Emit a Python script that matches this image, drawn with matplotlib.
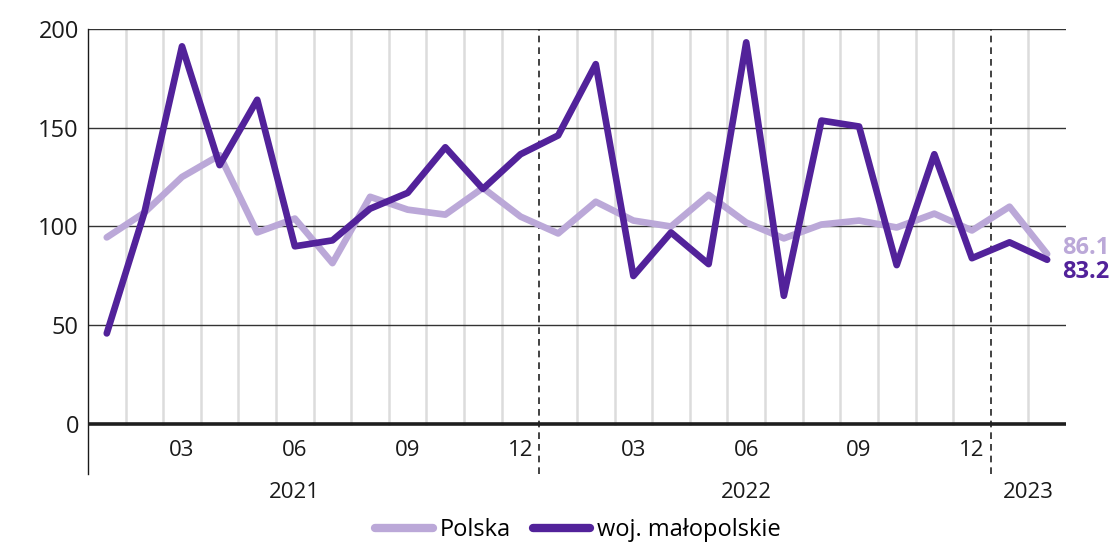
import matplotlib
matplotlib.use("Agg")
import matplotlib.pyplot as plt
from matplotlib.lines import Line2D

plt.rcParams["font.family"] = ["Open Sans", "DejaVu Sans"]

# monthly values, 2021-01 .. 2023-02
polska = [94.5, 107, 125, 136, 97, 104, 81.5, 115, 108.5, 106, 119.5, 105,
          96.5, 112.5, 103, 100, 116, 102, 94, 101, 103, 99.5, 106.5, 98, 110, 86.1]
malopolskie = [46, 107, 191, 131, 164, 90, 93, 109, 117, 140, 119, 136.5,
               146, 182, 75, 97, 81, 193, 65, 153.5, 150.5, 80.5, 136.5, 84, 92, 83.2]
month_labels = ["03", "06", "09", "12"]
years = ["2021", "2022", "2023"]
year_label_pos = [5, 17, 24.5]

c_light = "#bba8d8"
c_dark = "#52229a"

fig = plt.figure(figsize=(11.12, 5.43), dpi=100)
ax = fig.add_axes([0.0791, 0.1271, 0.8795, 0.8204])

n = len(polska)
x = list(range(n))

# month separators (grey) and year separators (dashed)
for i in range(n - 1):
    b = i + 0.5
    if (i + 1) % 12 == 0:
        ax.plot([b, b], [-25, 200], color="#222222", lw=1.2, ls=(0, (4, 3)), zorder=2)
    else:
        ax.plot([b, b], [0, 200], color="#dcdcdc", lw=1.8, zorder=1)

for v in [50, 100, 150, 200]:
    ax.axhline(v, color="#333333", lw=1.0, zorder=1.5)
ax.axhline(0, color="#1e1e1e", lw=2.6, zorder=3)

ax.plot(x, polska, color=c_light, lw=4.8, solid_capstyle="round", solid_joinstyle="round", zorder=4)
ax.plot(x, malopolskie, color=c_dark, lw=4.8, solid_capstyle="round", solid_joinstyle="round", zorder=5)

ax.annotate(f"{polska[-1]:.1f}", (x[-1], polska[-1]), xytext=(11, 4), textcoords="offset points",
            color=c_light, fontsize=17, fontweight="bold", va="center", ha="left", annotation_clip=False)
ax.annotate(f"{malopolskie[-1]:.1f}", (x[-1], malopolskie[-1]), xytext=(11, -8.5), textcoords="offset points",
            color=c_dark, fontsize=17, fontweight="bold", va="center", ha="left", annotation_clip=False)

ax.set_xlim(-0.5, n - 0.5)
ax.set_ylim(-25, 200)
ax.set_yticks([0, 50, 100, 150, 200])
ax.tick_params(axis="y", length=0, pad=6.5, labelsize=17, labelcolor="#1a1a1a")
ax.set_xticks([])

for y0 in range(0, n, 12):
    for k, lab in enumerate(month_labels):
        idx = y0 + 2 + 3 * k
        if idx < n:
            ax.text(idx, -13, lab, ha="center", va="center", fontsize=16, color="#1a1a1a")
for pos, lab in zip(year_label_pos, years):
    ax.text(pos, -34.5, lab, ha="center", va="center", fontsize=16, color="#1a1a1a", clip_on=False)

for s in ["top", "right", "bottom"]:
    ax.spines[s].set_visible(False)
ax.spines["left"].set_color("#1a1a1a")
ax.spines["left"].set_linewidth(1.0)

handles = [Line2D([], [], color=c_light, lw=6, solid_capstyle="round"),
           Line2D([], [], color=c_dark, lw=6, solid_capstyle="round")]
fig.legend(handles, ["Polska", "woj. małopolskie"], loc="center", bbox_to_anchor=(0.52, 0.024),
           ncol=2, frameon=False, fontsize=17, handlelength=2.45, handletextpad=0.3, columnspacing=0.9)

fig.savefig("out.png", dpi=100)
